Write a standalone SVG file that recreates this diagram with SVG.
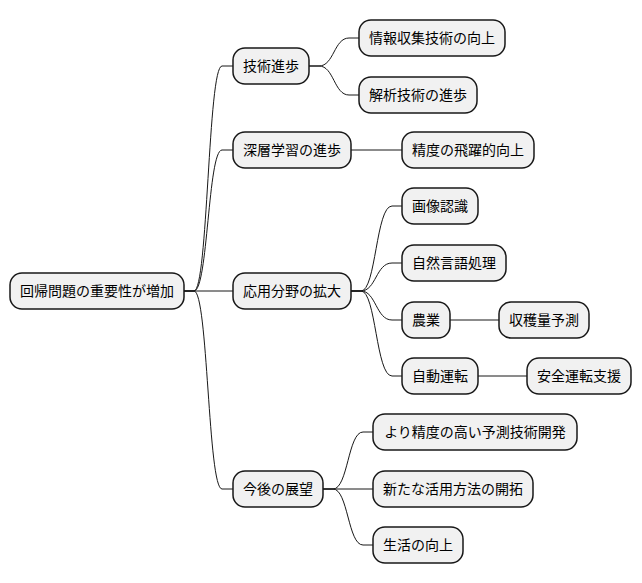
<svg xmlns="http://www.w3.org/2000/svg" width="642" height="583" viewBox="0 0 642 583">
<style>
.n rect{fill:#F1F1F1;stroke:#181818;stroke-width:1.5}
.n text{font-family:"Noto Sans CJK JP","Noto Sans",sans-serif;font-size:14px;fill:#000;text-anchor:middle}
.c path{fill:none;stroke:#181818;stroke-width:1}
</style>
<rect width="642" height="583" fill="#FFFFFF"/>
<g class="c">
<path d="M184,291 H194 C208,291 208,66 222,66 H233"/>
<path d="M184,291 H194 C208,291 208,150 222,150 H233"/>
<path d="M184,291 H233"/>
<path d="M184,291 H194 C208,291 208,489 222,489 H233"/>
<path d="M309,66 H319 C334,66 334,38 349,38 H359"/>
<path d="M309,66 H319 C334,66 334,95 349,95 H359"/>
<path d="M351,150 H402"/>
<path d="M351,291 H361 C376,291 376,206 392,206 H402"/>
<path d="M351,291 H361 C376,291 376,263 392,263 H402"/>
<path d="M351,291 H361 C376,291 376,320 392,320 H402"/>
<path d="M351,291 H361 C376,291 376,376 392,376 H402"/>
<path d="M450,320 H499"/>
<path d="M478,376 H527"/>
<path d="M323,489 H333 C348,489 348,432 363,432 H373"/>
<path d="M323,489 H373"/>
<path d="M323,489 H333 C348,489 348,545 363,545 H373"/>
</g>
<g id="root" class="n"><rect x="10" y="273" width="174" height="36" rx="12"/><text x="97" y="296">回帰問題の重要性が増加</text></g>
<g id="n1" class="n"><rect x="233" y="48" width="76" height="36" rx="12"/><text x="271" y="71">技術進歩</text></g>
<g id="n1a" class="n"><rect x="359" y="20" width="146" height="36" rx="12"/><text x="432" y="43">情報収集技術の向上</text></g>
<g id="n1b" class="n"><rect x="359" y="77" width="118" height="36" rx="12"/><text x="418" y="100">解析技術の進歩</text></g>
<g id="n2" class="n"><rect x="233" y="132" width="118" height="36" rx="12"/><text x="292" y="155">深層学習の進歩</text></g>
<g id="n2a" class="n"><rect x="402" y="132" width="132" height="36" rx="12"/><text x="468" y="155">精度の飛躍的向上</text></g>
<g id="n3" class="n"><rect x="233" y="273" width="118" height="36" rx="12"/><text x="292" y="296">応用分野の拡大</text></g>
<g id="n3a" class="n"><rect x="402" y="188" width="76" height="36" rx="12"/><text x="440" y="211">画像認識</text></g>
<g id="n3b" class="n"><rect x="402" y="245" width="104" height="36" rx="12"/><text x="454" y="268">自然言語処理</text></g>
<g id="n3c" class="n"><rect x="402" y="302" width="48" height="36" rx="12"/><text x="426" y="325">農業</text></g>
<g id="n3c1" class="n"><rect x="499" y="302" width="90" height="36" rx="12"/><text x="544" y="325">収穫量予測</text></g>
<g id="n3d" class="n"><rect x="402" y="358" width="76" height="36" rx="12"/><text x="440" y="381">自動運転</text></g>
<g id="n3d1" class="n"><rect x="527" y="358" width="104" height="36" rx="12"/><text x="579" y="381">安全運転支援</text></g>
<g id="n4" class="n"><rect x="233" y="471" width="90" height="36" rx="12"/><text x="278" y="494">今後の展望</text></g>
<g id="n4a" class="n"><rect x="373" y="414" width="204" height="36" rx="12"/><text x="475" y="437">より精度の高い予測技術開発</text></g>
<g id="n4b" class="n"><rect x="373" y="471" width="160" height="36" rx="12"/><text x="453" y="494">新たな活用方法の開拓</text></g>
<g id="n4c" class="n"><rect x="373" y="527" width="90" height="36" rx="12"/><text x="418" y="550">生活の向上</text></g>
</svg>
